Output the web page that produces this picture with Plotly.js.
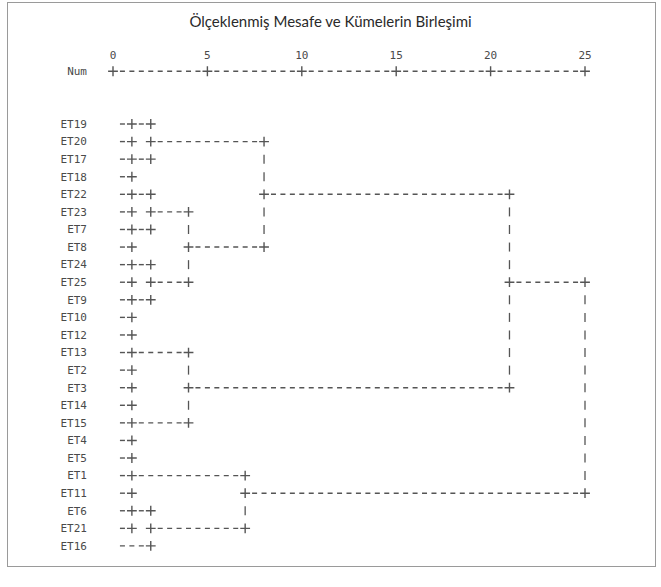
<!DOCTYPE html>
<html>
<head>
<meta charset="utf-8">
<script src="https://cdn.plot.ly/plotly-3.0.1.min.js"></script>
<style>
  html, body { margin: 0; padding: 0; background: #fff; }
  #wrap { position: relative; width: 661px; height: 587px; }
  #chart { position: absolute; left: 0; top: 0; width: 661px; height: 587px; }
  #frame { position: absolute; left: 7px; top: 2px; width: 647px; height: 563px;
           border: 1px solid #9a9a9a; pointer-events: none; }
</style>
</head>
<body>
<div id="wrap"><div id="chart"></div><div id="frame"></div></div>
<script>
// Cases in dendrogram order, top to bottom
const cases = ['ET19','ET20','ET17','ET18','ET22','ET23','ET7','ET8','ET24','ET25',
               'ET9','ET10','ET12','ET13','ET2','ET3','ET14','ET15','ET4','ET5',
               'ET1','ET11','ET6','ET21','ET16'];

// Agglomeration steps S1..S24: the two joined items and the rescaled distance of the join
const stepLeft  = ['ET19','ET17','S1','ET22','ET7','S4','ET24','ET9','S7','S6','S3',
                   'ET12','ET2','S12','ET14','ET4','S15','S14','S11','ET1','ET6','S21','S20','S19'];
const stepRight = ['ET20','ET18','S2','ET23','ET8','S5','ET25','ET10','S8','S9','S10',
                   'ET13','ET3','S13','ET15','ET5','S16','S17','S18','ET11','ET21','ET16','S22','S23'];
const stepDistance = [1, 1, 2, 1, 1, 2, 1, 1, 2, 4, 8,
                      1, 1, 1, 1, 1, 1, 4, 21, 1, 1, 2, 7, 25];

// Rescaled distance scale
const scaleTicks = [0, 5, 10, 15, 20, 25];
const scaleName = 'Num';
const chartTitle = 'Ölçeklenmiş Mesafe ve Kümelerin Birleşimi';

// ---- geometry of the character-style drawing ----
const W = 661, H = 587;
const X0PX = 113, X25PX = 585;          // pixel positions of distance 0 and 25
const PX_PER_UNIT = (X25PX - X0PX) / 25;
const CHARS_PER_UNIT = 2;               // two text columns per distance unit
const CHAR_PX = PX_PER_UNIT / CHARS_PER_UNIT;
const FIRST_ROW_PX = 124, ROW_PX = 17.58;
const PLOT_L = 88, PLOT_R = 600, PLOT_T = 62, PLOT_B = 560;
const AXIS_ROW = -2;
const DASH_PX = 5, BAR_PX = 9;
const INK = '#555555';
const MONO = 'DejaVu Sans Mono, Liberation Mono, monospace';

const xRange = [(PLOT_L - X0PX) / PX_PER_UNIT, 25 + (PLOT_R - X25PX) / PX_PER_UNIT];
const yRange = [1 + (PLOT_B - FIRST_ROW_PX) / ROW_PX, 1 + (PLOT_T - FIRST_ROW_PX) / ROW_PX];

// node table: leaves first, then each step
const nodes = {};
cases.forEach((c, i) => { nodes[c] = { row: i + 1, height: 0 }; });

const dashX = [], dashY = [];
const barX = [], barY = [];
const plusX = [], plusY = [];
const plusSeen = new Set();

const col = h => Math.round(h * CHARS_PER_UNIT);
const halfDash = (DASH_PX / 2) / PX_PER_UNIT;

function dashRun(c0, c1, row) {
  // "-" glyphs in every column strictly between c0 and c1
  if (c1 - c0 < 2) return;
  dashX.push((c0 + 1) / CHARS_PER_UNIT - halfDash, (c1 - 1) / CHARS_PER_UNIT + halfDash, null);
  dashY.push(row, row, null);
}

function plus(x, row) {
  // one "+" per cell, even where several joins meet
  const key = x + '|' + row;
  if (plusSeen.has(key)) return;
  plusSeen.add(key);
  plusX.push(x); plusY.push(row);
}

stepDistance.forEach((d, i) => {
  const a = nodes[stepLeft[i]], b = nodes[stepRight[i]];
  const top = Math.min(a.row, b.row), bot = Math.max(a.row, b.row);
  const isRoot = i === stepDistance.length - 1;
  const row = Math.floor((top + bot) / 2);
  const cm = col(d);

  [a, b].forEach(n => {
    dashRun(col(n.height), cm, n.row);
    plus(d, n.row);
  });
  if (!isRoot) plus(d, row);

  const hb = (BAR_PX / 2) / ROW_PX;
  for (let r = top + 1; r < bot; r++) {
    if (!isRoot && r === row) continue;
    barX.push(d, d, null);
    barY.push(r - hb, r + hb, null);
  }
  nodes['S' + (i + 1)] = { row: row, height: d };
});

// scale line: "+---------+---------+ ..."
scaleTicks.forEach((t, i) => {
  plus(t, AXIS_ROW);
  if (i > 0) dashRun(col(scaleTicks[i - 1]), col(t), AXIS_ROW);
});

const dashPattern = DASH_PX + 'px,' + (CHAR_PX - DASH_PX).toFixed(2) + 'px';

const traces = [
  { type: 'scatter', mode: 'lines', x: dashX, y: dashY, hoverinfo: 'skip',
    line: { color: INK, width: 1.4, dash: dashPattern } },
  { type: 'scatter', mode: 'lines', x: barX, y: barY, hoverinfo: 'skip',
    line: { color: INK, width: 1.3 } },
  { type: 'scatter', mode: 'markers', x: plusX, y: plusY, hoverinfo: 'skip',
    marker: { symbol: 'cross-thin', size: 7, color: INK, line: { color: INK, width: 1.4 } } }
];

const layout = {
  width: W, height: H,
  margin: { l: PLOT_L, r: W - PLOT_R, t: PLOT_T, b: H - PLOT_B, pad: 0 },
  paper_bgcolor: '#ffffff', plot_bgcolor: '#ffffff',
  showlegend: false,
  title: {
    text: chartTitle, x: 0.5, xref: 'container', xanchor: 'center',
    y: 1 - 22 / H, yref: 'container', yanchor: 'middle',
    font: { family: 'Lato, Open Sans, sans-serif', size: 15, color: '#2a2a2a' }
  },
  xaxis: {
    range: xRange, side: 'top', tickvals: scaleTicks, ticktext: scaleTicks.map(String),
    showgrid: false, zeroline: false, showline: false, ticks: '',
    tickfont: { family: MONO, size: 11, color: '#4a4a4a' }, fixedrange: true
  },
  yaxis: {
    range: yRange, tickvals: [AXIS_ROW].concat(cases.map((c, i) => i + 1)),
    ticktext: [scaleName].concat(cases),
    showgrid: false, zeroline: false, showline: false, ticks: '',
    tickfont: { family: MONO, size: 11, color: '#4a4a4a' }, fixedrange: true
  }
};

Plotly.newPlot('chart', traces, layout, { displayModeBar: false, staticPlot: true });
</script>
</body>
</html>
